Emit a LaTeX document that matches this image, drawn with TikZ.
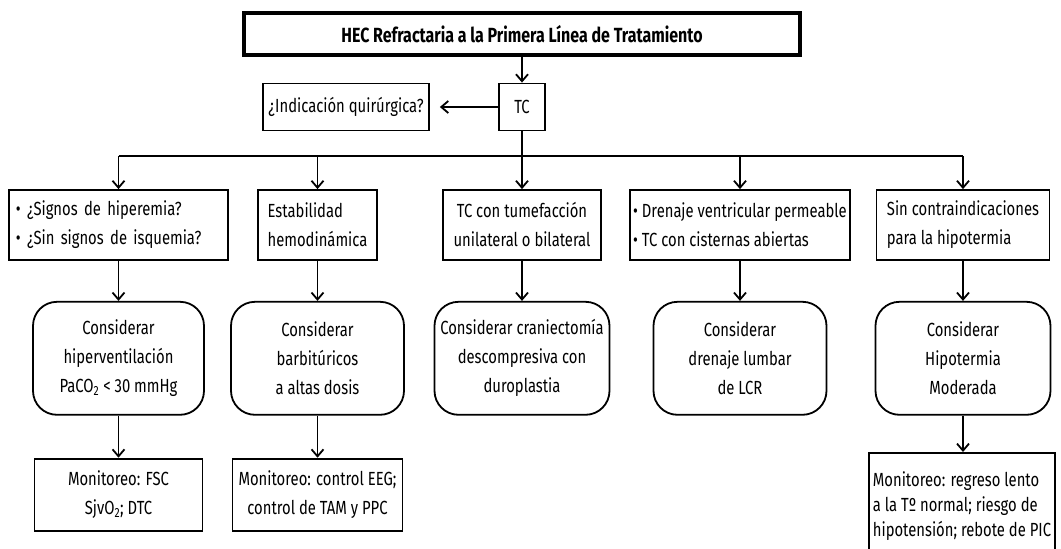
\documentclass[tikz,border=0pt]{standalone}
\usepackage{fontspec}
\setmainfont{Fira Sans}[FakeStretch=0.78]
\usetikzlibrary{arrows.meta,positioning}

\begin{document}
\begin{tikzpicture}[x=1pt, y=-1pt,
  node distance=40pt,
  font=\fontsize{19}{29}\selectfont,
  box/.style={draw, line width=1.8pt, align=center, minimum height=70pt},
  lbox/.style={box, align=left},
  opt/.style={draw, line width=1.8pt, rounded corners=24pt, align=center, minimum height=113pt},
  mon/.style={draw, line width=1.8pt, align=center, minimum height=72pt},
  arr/.style={-{Straight Barb[length=7pt,width=12pt]}, line width=1.8pt}
]
\useasboundingbox (0,0) rectangle (1061,549);
\clip (0,0) rectangle (1061,549);

\node[box, line width=3.6pt, minimum width=556pt, minimum height=42pt, font=\fontsize{20.5}{24}\selectfont\bfseries] (hec) at (522,34) {HEC Refractaria a la Primera Línea de Tratamiento};
\node[box, minimum width=46pt, minimum height=47pt] (tc) at (522,107) {TC};
\node[box, minimum width=166pt, minimum height=47pt] (ind) at (346,107) {¿Indicación quirúrgica?};

\node[lbox, text width=205pt, inner xsep=7pt] (b1) at (118.5,225) {• ¿Signos de hiperemia?\\• ¿Sin signos de isquemia?};
\node[lbox, minimum width=119pt] (b2) at (317.5,225) {Estabilidad\\hemodinámica};
\node[box, minimum width=158pt] (b3) at (522,225) {TC con tumefacción\\unilateral o bilateral};
\node[lbox, minimum width=218pt, inner xsep=3pt] (b4) at (740,225) {• Drenaje ventricular permeable\\• TC con cisternas abiertas};
\node[lbox, minimum width=173pt] (b5) at (963,225) {Sin contraindicaciones\\para la hipotermia};

\node[opt, minimum width=171pt, below=of b1] (r1) {Considerar\\hiperventilación\\PaCO\textsubscript{2} < 30 mmHg};
\node[opt, minimum width=173pt, below=of b2] (r2) {Considerar\\barbitúricos\\a altas dosis};
\node[opt, minimum width=175pt, below=of b3] (r3) {Considerar craniectomía\\descompresiva con\\duroplastia};
\node[opt, minimum width=173pt, below=of b4] (r4) {Considerar\\drenaje lumbar\\de LCR};
\node[opt, minimum width=175pt, below=of b5] (r5) {Considerar\\Hipotermia\\Moderada};

\node[mon, minimum width=168pt, below=42pt of r1] (m1) {Monitoreo: FSC\\SjvO\textsubscript{2}; DTC};
\node[mon, minimum width=170pt, below=42pt of r2] (m2) {Monitoreo: control EEG;\\control de TAM y PPC};
\node[mon, align=left, anchor=north west, inner xsep=4pt, inner ysep=19pt, text depth=60pt, font=\fontsize{19}{25}\selectfont] (m3) at (868,452) {Monitoreo: regreso lento\\a la Tº normal; riesgo de\\hipotensión; rebote de PIC};

\coordinate (bus) at (522,156);
\draw[arr] (hec) -- (tc);
\draw[arr, shorten >=10pt] (tc) -- (ind);
\draw[line width=1.8pt] (tc) -- (bus);
\draw[line width=1.8pt] (b1.north |- bus) -- (b5.north |- bus);
\foreach \n in {b1,b2,b3,b4,b5}
  \draw[arr] (\n.north |- bus) -- (\n);
\foreach \n/\m in {b1/r1,b2/r2,b3/r3,b4/r4,b5/r5}
  \draw[arr] (\n) -- (\m);
\draw[arr] (r1) -- (m1);
\draw[arr] (r2) -- (m2);
\draw[arr] (r5) -- (r5 |- m3.north);
\end{tikzpicture}
\end{document}
